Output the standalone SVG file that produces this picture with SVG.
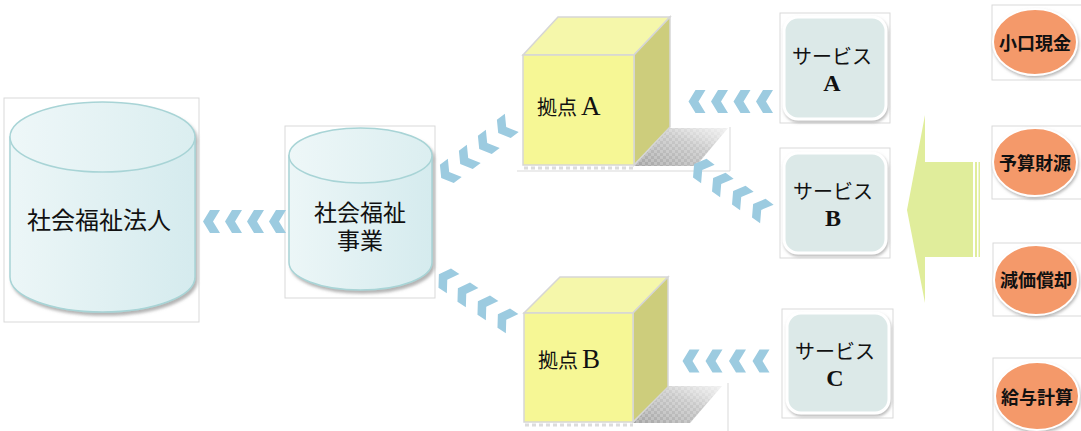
<svg xmlns="http://www.w3.org/2000/svg" xmlns:xlink="http://www.w3.org/1999/xlink" width="1081" height="431" viewBox="0 0 1081 431">
<style>
.frame{fill:none;stroke:#d9d9d9;stroke-width:1}
.cyl{fill:url(#cylGrad);stroke:#a8d4d6;stroke-width:1.5}
.cyltop{fill:url(#cylTopGrad);stroke:#a8d4d6;stroke-width:1.5}
.front{fill:#f6f795;stroke:#d6d6d6;stroke-width:1.5}
.top{fill:#f5f7aa;stroke:#d6d6d6;stroke-width:1.5}
.side{fill:#cdcd7c;stroke:#d6d6d6;stroke-width:1.5}
.svc{fill:#dce9e8;stroke:#ffffff;stroke-width:3}
.orb{fill:#f4996a;stroke:#ffffff;stroke-width:2}
.chev{fill:#9ccbe0}
.t{font-family:"Liberation Serif","Noto Sans CJK JP",serif;fill:#111;text-anchor:middle}
.jp{font-family:"Noto Sans CJK JP","Liberation Serif",sans-serif;fill:#111}
.lat{font-family:"Liberation Serif","Noto Sans CJK JP",serif;fill:#111}
</style>
<defs>
<linearGradient id="cylGrad" x1="0" y1="0" x2="1" y2="0">
<stop offset="0" stop-color="#ecf6f7"/>
<stop offset="1" stop-color="#d5ebee"/>
</linearGradient>
<linearGradient id="cylTopGrad" x1="0" y1="0" x2="1" y2="0">
<stop offset="0" stop-color="#eef7f8"/>
<stop offset="1" stop-color="#dbeef0"/>
</linearGradient>
<linearGradient id="shadowGrad" x1="0" y1="1" x2="1" y2="0">
<stop offset="0" stop-color="#a0a0a0" stop-opacity="0.95"/>
<stop offset="0.6" stop-color="#b8b8b8" stop-opacity="0.75"/>
<stop offset="1" stop-color="#d4d4d4" stop-opacity="0.35"/>
</linearGradient>
<pattern id="checker" width="6" height="6" patternUnits="userSpaceOnUse">
<rect width="3" height="3" fill="#ffffff" fill-opacity="0.22"/>
<rect x="3" y="3" width="3" height="3" fill="#ffffff" fill-opacity="0.22"/>
</pattern>
<filter id="ds" x="-10%" y="-10%" width="125%" height="125%">
<feDropShadow dx="2" dy="3" stdDeviation="1.8" flood-color="#777" flood-opacity="0.55"/>
</filter>
<filter id="ds2" x="-10%" y="-10%" width="125%" height="125%">
<feDropShadow dx="1" dy="2" stdDeviation="1.5" flood-color="#888" flood-opacity="0.6"/>
</filter>
<polygon id="chev" points="-8.5,0 -1.5,-11.5 8.5,-11.5 1.5,0 8.5,11.5 -1.5,11.5"/>
</defs>

<g id="node-houjin">
<rect class="frame" x="4" y="98" width="195" height="224"/>
<g filter="url(#ds)">
<path class="cyl" d="M10,137 L10,277 A92.5,35 0 0 0 195,277 L195,137 Z"/>
<ellipse class="cyltop" cx="102.5" cy="137" rx="92.5" ry="35"/>
</g>
<text class="t" x="99" y="229" font-size="24">社会福祉法人</text>
</g>

<g id="node-jigyou">
<rect class="frame" x="285" y="126" width="150" height="172"/>
<g filter="url(#ds)">
<path class="cyl" d="M289,155.5 L289,262.5 A71.5,27.5 0 0 0 432,262.5 L432,155.5 Z"/>
<ellipse class="cyltop" cx="360.5" cy="155.5" rx="71.5" ry="27.5"/>
</g>
<text class="t" x="360" y="221" font-size="23">社会福祉</text>
<text class="t" x="360" y="249" font-size="23">事業</text>
</g>

<g id="node-kyotenA">
<line class="frame" x1="517" y1="171" x2="730" y2="171"/>
<line class="frame" x1="730" y1="127" x2="730" y2="171"/>
<polygon points="634,166 668,128 728,128 696,166" fill="url(#shadowGrad)"/>
<polygon points="634,166 668,128 728,128 696,166" fill="url(#checker)"/>
<line x1="524" y1="168" x2="634" y2="168" stroke="#dcdcdc" stroke-width="3" stroke-dasharray="4,3"/>
<polygon class="top" points="523,55 558,17 670,17 634,55"/>
<polygon class="side" points="634,55 670,17 670,127 634,165"/>
<rect class="front" x="523" y="55" width="111" height="110"/>
<text x="537" y="115" font-size="20"><tspan class="jp">拠点</tspan><tspan class="lat" dx="4" font-size="27">A</tspan></text>
</g>

<g id="node-kyotenB">
<line class="frame" x1="728" y1="383" x2="728" y2="431"/>
<polygon points="633,423 668,386 722,386 690,423" fill="url(#shadowGrad)"/>
<polygon points="633,423 668,386 722,386 690,423" fill="url(#checker)"/>
<line x1="525" y1="425" x2="633" y2="425" stroke="#dcdcdc" stroke-width="3" stroke-dasharray="4,3"/>
<polygon class="top" points="524,313 560,277 668,277 633,313"/>
<polygon class="side" points="633,313 668,277 668,387 633,422"/>
<rect class="front" x="524" y="313" width="109" height="109"/>
<text x="538" y="368" font-size="20"><tspan class="jp">拠点</tspan><tspan class="lat" dx="4" font-size="27">B</tspan></text>
</g>

<g id="node-serviceA">
<rect class="frame" x="780" y="13" width="110" height="110"/>
<rect class="svc" x="784" y="17" width="102" height="102" rx="14" filter="url(#ds2)"/>
<text class="t" x="832" y="64" font-size="20">サービス</text>
<text class="t" x="832" y="91" font-size="24" font-weight="bold">A</text>
</g>

<g id="node-serviceB">
<rect class="frame" x="780" y="148" width="110" height="110"/>
<rect class="svc" x="784" y="153" width="102" height="100" rx="14" filter="url(#ds2)"/>
<text class="t" x="833" y="199" font-size="20">サービス</text>
<text class="t" x="833" y="226" font-size="24" font-weight="bold">B</text>
</g>

<g id="node-serviceC">
<rect class="frame" x="782" y="309" width="111" height="109"/>
<rect class="svc" x="787" y="313" width="102" height="100" rx="14" filter="url(#ds2)"/>
<text class="t" x="835" y="359" font-size="20">サービス</text>
<text class="t" x="835" y="386" font-size="24" font-weight="bold">C</text>
</g>

<g id="node-arrow">
<polygon points="907,210 925,115 925,162 973,162 973,257 925,257 925,303" fill="#e0ed9b"/>
<rect x="975" y="162" width="2" height="95" fill="#e0ed9b"/>
<rect x="978.5" y="162" width="1.5" height="95" fill="#e0ed9b"/>
</g>

<g id="node-koguchi">
<rect class="frame" x="992" y="5" width="90" height="75"/>
<ellipse class="orb" cx="1035" cy="42" rx="42" ry="33" filter="url(#ds2)"/>
<text class="t" x="1035" y="50" font-size="18" font-weight="bold">小口現金</text>
</g>

<g id="node-yosan">
<rect class="frame" x="992" y="126" width="90" height="73"/>
<ellipse class="orb" cx="1035" cy="162" rx="42" ry="34" filter="url(#ds2)"/>
<text class="t" x="1035" y="170" font-size="18" font-weight="bold">予算財源</text>
</g>

<g id="node-genka">
<rect class="frame" x="993" y="243" width="89" height="73"/>
<ellipse class="orb" cx="1036" cy="280" rx="42" ry="35" filter="url(#ds2)"/>
<text class="t" x="1036" y="287" font-size="18" font-weight="bold">減価償却</text>
</g>

<g id="node-kyuyo">
<rect class="frame" x="993" y="358" width="89" height="74"/>
<ellipse class="orb" cx="1037" cy="396" rx="42" ry="34" filter="url(#ds2)"/>
<text class="t" x="1037" y="404" font-size="18" font-weight="bold">給与計算</text>
</g>

<g id="connectors" class="chev">
<use xlink:href="#chev" transform="translate(211.5,221.5)"/>
<use xlink:href="#chev" transform="translate(233.5,221.5)"/>
<use xlink:href="#chev" transform="translate(255.5,221.5)"/>
<use xlink:href="#chev" transform="translate(277.5,221.5)"/>

<use xlink:href="#chev" transform="translate(697,101.5)"/>
<use xlink:href="#chev" transform="translate(719.5,101.5)"/>
<use xlink:href="#chev" transform="translate(742,101.5)"/>
<use xlink:href="#chev" transform="translate(764.5,101.5)"/>

<use xlink:href="#chev" transform="translate(691,361)"/>
<use xlink:href="#chev" transform="translate(714,361)"/>
<use xlink:href="#chev" transform="translate(737.5,361)"/>
<use xlink:href="#chev" transform="translate(761,361)"/>

<use xlink:href="#chev" transform="translate(505,128) rotate(-37)"/>
<use xlink:href="#chev" transform="translate(486,144) rotate(-37)"/>
<use xlink:href="#chev" transform="translate(467,159) rotate(-37)"/>
<use xlink:href="#chev" transform="translate(448,173) rotate(-37)"/>

<use xlink:href="#chev" transform="translate(446,279) rotate(33)"/>
<use xlink:href="#chev" transform="translate(465,293) rotate(33)"/>
<use xlink:href="#chev" transform="translate(485,306) rotate(33)"/>
<use xlink:href="#chev" transform="translate(505,319) rotate(33)"/>

<use xlink:href="#chev" transform="translate(701,169) rotate(36)"/>
<use xlink:href="#chev" transform="translate(720,183) rotate(36)"/>
<use xlink:href="#chev" transform="translate(740,196) rotate(36)"/>
<use xlink:href="#chev" transform="translate(760,209) rotate(36)"/>
</g>
</svg>
